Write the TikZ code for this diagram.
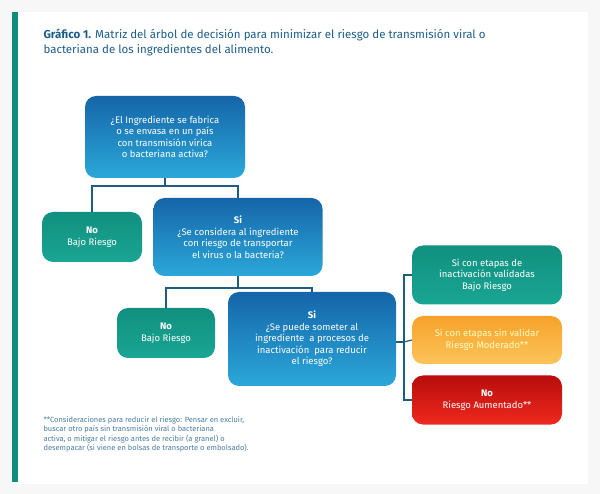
\documentclass[tikz,border=0pt]{standalone}
\usepackage{fontspec}
\setmainfont{Fira Sans}
\usetikzlibrary{positioning}
\definecolor{azulA}{HTML}{1565A8}
\definecolor{azulB}{HTML}{2BA8DA}
\definecolor{verdeA}{HTML}{11907F}
\definecolor{verdeB}{HTML}{1AA593}
\definecolor{narA}{HTML}{F6A22A}
\definecolor{narB}{HTML}{FCC45A}
\definecolor{rojoA}{HTML}{B80C0C}
\definecolor{rojoB}{HTML}{EE2A1E}
\definecolor{linea}{HTML}{1E5E7C}
\definecolor{titulo}{HTML}{1D5D8A}
\begin{document}
\begin{tikzpicture}[x=1pt,y=-1pt,font=\fontsize{9.5}{11.5}\selectfont,
  caja/.style={rounded corners=11pt,align=center,text=white,inner sep=0pt},
  pregunta/.style={caja,top color=azulA,bottom color=azulB},
  bajo/.style={caja,top color=verdeA,bottom color=verdeB},
  moderado/.style={caja,top color=narA,bottom color=narB,text=yellow!25},
  alto/.style={caja,top color=rojoA,bottom color=rojoB},
  rama/.style={draw=linea,line width=1.2pt}]
\useasboundingbox (0,0) rectangle (600,494);
\fill[gray!6] (0,0) rectangle (600,494);
\fill[white] (12,12) rectangle (588,484);
\fill[verdeA!80!teal] (12,12) rectangle (18,482);

% titulo
\node[anchor=north west,align=left,text=titulo,font=\fontsize{11.5}{15}\selectfont] (tit) at (40,25)
  {\textbf{Gráfico 1.} Matriz del árbol de decisión para minimizar el riesgo de transmisión viral o\\
   bacteriana de los ingredientes del alimento.};

% preguntas
\node[pregunta,minimum width=160pt,minimum height=82pt] (Q1) at (165,137)
  {¿El Ingrediente se fabrica\\o se envasa en un país\\con transmisión vírica\\o bacteriana activa?};
\node[pregunta,minimum width=169pt,minimum height=78pt] (Q2) at (238,237)
  {\textbf{Si}\\¿Se considera al ingrediente\\con riesgo de transportar\\el virus o la bacteria?};
\node[pregunta,minimum width=168pt,minimum height=94pt] (Q3) at (312,339)
  {\textbf{Si}\\¿Se puede someter al\\ingrediente\ \ a procesos de\\inactivación\ \ para reducir\\el riesgo?};

% respuestas
\node[bajo,minimum width=100pt,minimum height=50pt] (N1) at (92,237) {\textbf{No}\\Bajo Riesgo};
\node[bajo,minimum width=98pt,minimum height=50pt] (N2) at (166,333) {\textbf{No}\\Bajo Riesgo};
\node[bajo,minimum width=150pt,minimum height=59pt] (R1) at (487,275)
  {Si con etapas de\\inactivación validadas\\Bajo Riesgo};
\node[moderado,minimum width=150pt,minimum height=48pt] (R2) at (487,340)
  {Si con etapas sin validar\\Riesgo Moderado**};
\node[alto,minimum width=150pt,minimum height=49pt] (R3) at (487,400)
  {\textbf{No}\\Riesgo Aumentado**};

% conexiones
\coordinate (j1) at (165,186);
\coordinate (j2) at (238,288);
\coordinate (j3) at (404,342);
\draw[rama] (Q1.south) -- (j1);
\draw[rama] (N1.north) |- (j1) -| (Q2.north);
\draw[rama] (Q2.south) -- (j2);
\draw[rama] (N2.north) |- (j2) -| (Q3.north);
\draw[rama] (Q3.east |- j3) -- (j3);
\draw[rama] (R1.west) -| (j3) |- (R3.west);
\draw[rama] (j3) -- (R2.west);

% nota
\node[anchor=north west,align=left,text=titulo!80,font=\fontsize{7.5}{9.5}\selectfont] (nota) at (40,413)
  {**Consideraciones para reducir el riesgo: Pensar en excluir,\\
   buscar otro país sin transmisión viral o bacteriana\\
   activa, o mitigar el riesgo antes de recibir (a granel) o\\
   desempacar (si viene en bolsas de transporte o embolsado).};
\end{tikzpicture}
\end{document}
